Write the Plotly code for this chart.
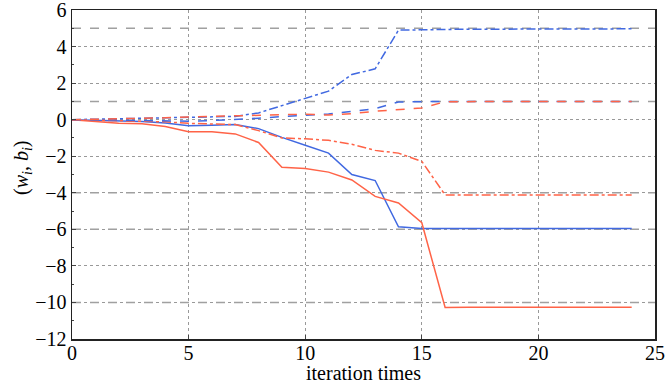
import plotly.graph_objects as go

iters = list(range(25))

w_solid_blue = [0, -0.02, -0.05, -0.1, -0.18, -0.33, -0.3, -0.27, -0.49, -0.97, -1.4, -1.83, -3.0, -3.33, -5.86,
                -5.95, -5.95, -5.95, -5.95, -5.95, -5.95, -5.95, -5.95, -5.95, -5.95]
w_solid_red = [0, -0.1, -0.2, -0.22, -0.37, -0.66, -0.66, -0.78, -1.25, -2.6, -2.67, -2.87, -3.3, -4.2, -4.56,
               -5.64, -10.28, -10.26, -10.26, -10.26, -10.26, -10.26, -10.26, -10.26, -10.26]
b_dashdot_blue = [0, 0.02, 0.04, 0.06, 0.08, 0.1, 0.13, 0.18, 0.37, 0.77, 1.14, 1.56, 2.47, 2.78, 4.9,
                  4.93, 4.95, 4.95, 4.95, 4.95, 4.96, 4.96, 4.96, 4.97, 4.97]
b_dashdot_red = [0, -0.02, -0.05, -0.08, -0.12, -0.2, -0.25, -0.27, -0.6, -1.0, -1.05, -1.13, -1.35, -1.68, -1.83,
                 -2.28, -4.12, -4.12, -4.12, -4.12, -4.12, -4.12, -4.12, -4.12, -4.12]
dash_blue = [0, 0, -0.02, -0.05, -0.07, -0.08, -0.05, 0.0, 0.08, 0.17, 0.25, 0.31, 0.45, 0.6, 0.97,
             1.0, 1.0, 1.0, 1.0, 1.0, 1.0, 1.0, 1.0, 1.0, 1.0]
dash_red = [0, 0.02, 0.04, 0.07, 0.1, 0.15, 0.18, 0.2, 0.25, 0.3, 0.3, 0.25, 0.33, 0.46, 0.55,
            0.64, 0.98, 1.0, 1.0, 1.0, 1.0, 1.0, 1.0, 1.0, 1.0]
true_values = [5, 1, -4, -6, -10]
x_title = "iteration times"
y_title = "(<i>w<sub>i</sub></i>, <i>b<sub>i</sub></i>)"

BLUE = "#4169E1"
RED = "#FF6347"

fig = go.Figure()
for tv in true_values:
    fig.add_trace(go.Scatter(x=[0, 25], y=[tv, tv], mode="lines",
                             line=dict(color="#a0a0a0", width=1.5, dash="dash"),
                             showlegend=False, hoverinfo="skip"))

series = [
    (w_solid_blue, BLUE, "solid"),
    (w_solid_red, RED, "solid"),
    (b_dashdot_blue, BLUE, "dashdot"),
    (b_dashdot_red, RED, "dashdot"),
    (dash_blue, BLUE, "dash"),
    (dash_red, RED, "dash"),
]
for ys, c, d in series:
    fig.add_trace(go.Scatter(x=iters, y=ys, mode="lines",
                             line=dict(color=c, width=1.5, dash=d), showlegend=False))

font = dict(family="Liberation Serif, Times New Roman, serif", size=20, color="black")
fig.update_layout(
    width=665, height=383,
    margin=dict(l=72, r=10, t=10, b=44, autoexpand=False),
    plot_bgcolor="white", paper_bgcolor="white",
    font=font,
    xaxis=dict(range=[0, 25], tickvals=[0, 5, 10, 15, 20, 25], ticks="inside", ticklen=4,
               showline=True, linecolor="#222", linewidth=1.5, mirror=True,
               showgrid=True, gridcolor="#999", griddash="dot", gridwidth=1,
               zeroline=False, automargin=False, tickfont=font, ticklabeloverflow="allow",
               ticklabelstandoff=-5),
    yaxis=dict(range=[-12, 6], tickvals=list(range(-12, 7, 2)), ticks="inside", ticklen=4,
               showline=True, linecolor="#222", linewidth=1.5, mirror=True,
               showgrid=True, gridcolor="#999", griddash="dot", gridwidth=1,
               zeroline=False, automargin=False, tickfont=font, ticklabeloverflow="allow",
               minor=dict(tickvals=list(range(-11, 6, 2)), ticks="inside", ticklen=2, showgrid=False)),
    annotations=[
        dict(text=x_title, xref="paper", yref="paper", x=0.5, y=-34 / 329,
             xanchor="center", yanchor="middle", showarrow=False, font=font),
        dict(text=y_title, xref="paper", yref="paper", x=-50 / 583, y=(339 - 168) / 329,
             xanchor="center", yanchor="middle", textangle=-90, showarrow=False, font=font),
    ],
)
fig.write_html("out.html", post_script="document.body.style.margin='0';",
               config={"staticPlot": True})
